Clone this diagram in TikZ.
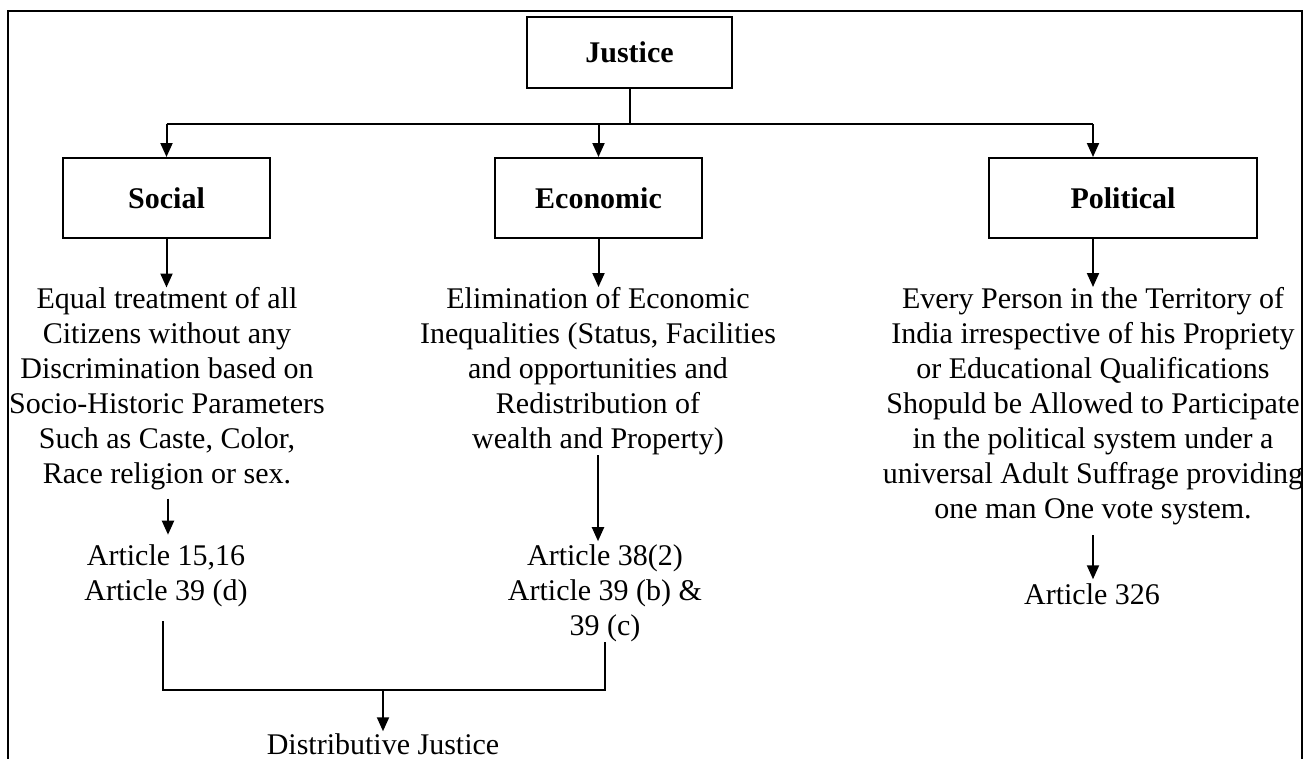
\documentclass[tikz,border=0pt]{standalone}
\usepackage{fontspec}
\setmainfont{Liberation Serif}
\usetikzlibrary{arrows.meta,calc}
\begin{document}
\begin{tikzpicture}[x=1pt,y=-1pt,
  box/.style={draw,line width=2pt,rectangle,inner sep=0pt,font=\fontsize{30}{35}\selectfont\bfseries},
  txt/.style={inner sep=0pt,align=center,font=\fontsize{30}{35}\selectfont},
  link/.style={line width=2pt},
  arr/.style={line width=2pt,-{Triangle[length=14pt,width=12pt]}}]
\useasboundingbox (0,0) rectangle (1309,758);
\fill[white] (0,0) rectangle (1309,758);
% frame
\coordinate (fbl) at (8,770);
\coordinate (ftl) at (8,11);
\coordinate (ftr) at (1302,11);
\coordinate (fbr) at (1302,770);
\draw[line width=2.5pt] (fbl) -- (ftl) -- (ftr) -- (fbr);
% boxes
\node[box,minimum width=205pt,minimum height=71pt] (justice) at (629.5,52.5) {Justice};
\node[box,minimum width=207pt,minimum height=80pt] (social) at (166.5,198) {Social};
\node[box,minimum width=207pt,minimum height=80pt] (economic) at (598.5,198) {Economic};
\node[box,minimum width=268pt,minimum height=80pt] (political) at (1123,198) {Political};
% texts
\node[txt] (soctxt) at (167,389) {Equal treatment of all\\Citizens without any\\Discrimination based on\\Socio-Historic Parameters\\Such as Caste, Color,\\Race religion or sex.};
\node[txt] (ecotxt) at (598,371) {Elimination of Economic\\Inequalities (Status, Facilities\\and opportunities and\\Redistribution of\\wealth and Property)};
\node[txt] (poltxt) at (1093,406) {Every Person in the Territory of\\India irrespective of his Propriety\\or Educational Qualifications\\Shopuld be Allowed to Participate\\in the political system under a\\universal Adult Suffrage providing\\one man One vote system.};
\node[txt] (socart) at (166,576) {Article 15,16\\Article 39 (d)};
\node[txt] (ecoart) at (605,593) {Article 38(2)\\Article 39 (b) \&\\39 (c)};
\node[txt] (polart) at (1092,594) {Article 326};
\node[txt] (distr) at (383,744) {Distributive Justice};
% top tree
\coordinate (hub) at (630,124);
\draw[link] (justice.south -| hub) -- (hub);
\draw[link] (social.north |- hub) -- (poltxt.north |- hub);
\draw[arr] (social.north |- hub) -- (social.north);
\draw[arr] (economic.north |- hub) -- (economic.north);
\draw[arr] (poltxt.north |- hub) -- (poltxt.north |- political.north);
% box to text
\draw[arr] (social.south) -- (social.south |- soctxt.north);
\draw[arr] (economic.south) -- (economic.south |- ecotxt.north);
\draw[arr] (poltxt.north |- political.south) -- (poltxt.north);
% text to articles
\draw[arr,shorten <=8pt,shorten >=10pt] (soctxt.south -| 168,0) -- (socart.north -| 168,0);
\draw[arr,shorten >=3pt] (ecotxt.south) -- (ecotxt.south |- ecoart.north);
\draw[arr,shorten <=10pt,shorten >=4pt] (poltxt.south) -- (poltxt.south |- polart.north);
% bracket
\coordinate (jl) at (163,690);
\coordinate (jr) at (605,690);
\coordinate (jm) at (383,690);
\draw[link,shorten <=14pt] (socart.south -| jl) -- (jl) -- (jr) -- (ecoart.south -| jr);
\draw[arr,shorten >=2pt] (jm) -- (distr.north);
\end{tikzpicture}
\end{document}
